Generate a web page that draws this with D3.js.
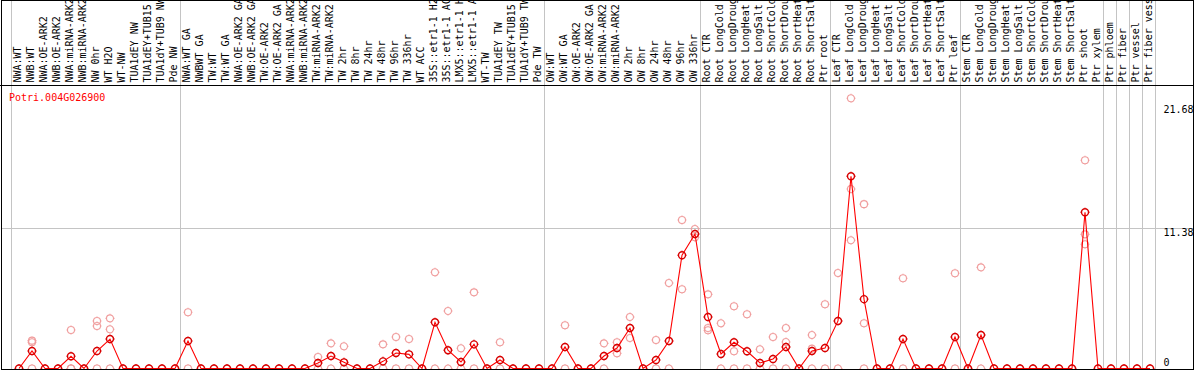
<!DOCTYPE html>
<html>
<head>
<meta charset="utf-8">
<script src="https://cdn.jsdelivr.net/npm/d3@7"></script>
<style>
  html, body { margin: 0; padding: 0; background: #fff; }
  svg { display: block; }
  text { font-family: "DejaVu Sans Mono", monospace; font-size: 10px; }
</style>
</head>
<body>
<script>
const geneId = "Potri.004G026900";

const samples = [
  "NWA:WT", "NWB:WT", "NWA:OE-ARK2", "NWB:OE-ARK2", "NWA:miRNA-ARK2", "NWB:miRNA-ARK2",
  "NW 0hr", "WT H2O", "WT-NW", "TUA1dEY NW", "TUA1dEY+TUB15 NW", "TUA1dY+TUB9 NW", "Pde NW",
  "NWA:WT GA", "NWBWT GA", "TW:WT", "TW:WT GA", "NWA:OE-ARK2 GA", "NWB:OE-ARK2 GA",
  "TW:OE-ARK2", "TW:OE-ARK2 GA", "NWA:miRNA-ARK2", "NWB:miRNA-ARK2", "TW:miRNA-ARK2",
  "TW:miRNA-ARK2", "TW 2hr", "TW 8hr", "TW 24hr", "TW 48hr", "TW 96hr", "TW 336hr",
  "WT ACC", "35S::etr1-1 H2O", "35S::etr1-1 ACC", "LMX5::etr1-1 H2O", "LMX5::etr1-1 ACC",
  "WT-TW", "TUA1dEY TW", "TUA1dEY+TUB15 TW", "TUA1dY+TUB9 TW", "Pde TW",
  "OW:WT", "OW:WT GA", "OW:OE-ARK2", "OW:OE-ARK2 GA", "OW:miRNA-ARK2", "OW:miRNA-ARK2",
  "OW 2hr", "OW 8hr", "OW 24hr", "OW 48hr", "OW 96hr", "OW 336hr",
  "Root CTR", "Root LongCold", "Root LongDrought", "Root LongHeat", "Root LongSalt",
  "Root ShortCold", "Root ShortDrought", "Root ShortHeat", "Root ShortSalt", "Ptr root",
  "Leaf CTR", "Leaf LongCold", "Leaf LongDrought", "Leaf LongHeat", "Leaf LongSalt",
  "Leaf ShortCold", "Leaf ShortDrought", "Leaf ShortHeat", "Leaf ShortSalt", "Ptr leaf",
  "Stem CTR", "Stem LongCold", "Stem LongDrought", "Stem LongHeat", "Stem LongSalt",
  "Stem ShortCold", "Stem ShortDrought", "Stem ShortHeat", "Stem ShortSalt", "Ptr shoot",
  "Ptr xylem", "Ptr phloem", "Ptr fiber", "Ptr vessel", "Ptr fiber vessel"
];

// samples per group (grey separators)
const groupSizes = [13, 28, 12, 10, 10, 11, 1, 1, 1, 1];

// mean expression (red line)
const means = [
  0, 1.42, 0, 0, 0.99, 0, 1.42, 2.39, 0, 0, 0, 0, 0,
  2.23, 0, 0, 0, 0, 0, 0, 0, 0, 0, 0.45, 1.01, 0.50, 0, 0, 0.58, 1.26, 1.15, 0,
  3.75, 1.48, 0.53, 1.96, 0, 0.69, 0, 0, 0,
  0, 1.75, 0, 0, 1.01, 1.66, 3.29, 0, 0.69, 2.23, 9.19, 10.92,
  4.18, 1.18, 2.13, 1.40, 0.45, 0.77, 1.75, 0, 1.42, 1.66,
  3.86, 15.6, 5.63, 0, 0, 2.39, 0, 0, 0, 2.56,
  0, 2.72, 0, 0, 0, 0, 0, 0, 0, 12.68, 0,
  0, 0, 0, 0
];

// individual replicates (pink circles)
const replicates = [
  [], [2.26, 2.13, 0], [], [], [3.12, 0, 0], [], [3.86, 3.45, 0], [4.07, 3.18, 0], [], [], [], [], [],
  [4.56, 0], [], [], [], [], [], [], [], [], [], [0.93, 0], [2.04, 0], [1.80, 0], [], [], [1.96, 0],
  [2.56, 0], [2.39, 0], [], [7.81, 0], [4.67, 0], [1.64, 0], [6.18, 0], [], [2.13, 0], [], [], [],
  [], [3.51, 0], [], [], [2.04, 0], [2.13, 1.23], [4.18, 2.48], [], [2.31, 0], [6.94, 0],
  [12.05, 6.43], [11.32, 10.65],
  [6.02, 3.29, 3.10], [3.67, 0], [5.05, 1.40, 0], [4.40, 0], [1.56, 0], [2.56, 0], [3.29, 2.15, 0],
  [], [2.72, 1.61, 0], [5.21, 0],
  [7.75, 0], [21.93, 14.57, 10.41], [13.34, 3.67, 0], [], [], [7.32, 0], [], [], [], [7.73, 0],
  [], [8.21, 0], [], [], [], [], [], [], [], [16.90, 10.89, 10.08], [],
  [], [], [], []
];

const yTicks = [0, 11.38, 21.68];

const W = 1194, H = 370;
const headerY = 85.5, baseY = 368.5;

const svg = d3.select("body").append("svg")
    .attr("width", W)
    .attr("height", H);

const x = d3.scaleBand()
    .domain(d3.range(samples.length))
    .range([11, 11 + 13 * samples.length])
    .paddingInner(0).paddingOuter(0);

const px = i => x(i) + 8;

const y = d3.scaleLinear()
    .domain([0, 21.68])
    .range([baseY, 101.4]);

// group separators
const bounds = [0].concat(Array.from(d3.cumsum(groupSizes)));
svg.append("g").selectAll("line")
    .data(bounds)
  .enter().append("line")
    .attr("x1", d => Math.round(x(0) + 13 * d) + 0.5)
    .attr("x2", d => Math.round(x(0) + 13 * d) + 0.5)
    .attr("y1", 0)
    .attr("y2", H)
    .style("stroke", "#c4c4c4")
    .style("stroke-width", 1);

// middle grid line
svg.append("line")
    .attr("x1", 1).attr("x2", W)
    .attr("y1", Math.round(y(yTicks[1])) + 0.5)
    .attr("y2", Math.round(y(yTicks[1])) + 0.5)
    .style("stroke", "#c4c4c4");

// sample labels (long ones run off the top, as in the original)
svg.append("g").selectAll("text")
    .data(samples)
  .enter().append("text")
    .attr("transform", (d, i) => `translate(${px(i) + 2},82.5) rotate(-90)`)
    .text(d => d);

// title
svg.append("text")
    .attr("x", 9).attr("y", 101)
    .style("fill", "#ff0000")
    .text(geneId);

// right axis values
const tickOffsets = [-2.5, 7.7, 11.6];
svg.append("g").selectAll("text")
    .data(yTicks)
  .enter().append("text")
    .attr("x", 1163.5)
    .attr("y", (d, i) => y(d) + tickOffsets[i])
    .text(d => d === 0 ? "0" : d.toFixed(2));

// circle with tiny tick marks, bitmap style
const ring = (cx, cy) => {
  const r = 3.5;
  return `M${cx - r},${cy}a${r},${r} 0 1,0 ${2 * r},0a${r},${r} 0 1,0 ${-2 * r},0` +
    `M${cx},${cy - r - 1}v1M${cx},${cy + r}v1M${cx - r - 1},${cy}h1M${cx + r},${cy}h1`;
};

// replicate points
const repPts = [];
replicates.forEach((vals, i) => vals.forEach(v => repPts.push([i, v])));
svg.append("g").selectAll("path")
    .data(repPts)
  .enter().append("path")
    .attr("d", d => ring(px(d[0]), y(d[1])))
    .style("fill", "none")
    .style("stroke", "#f09c9c")
    .style("stroke-width", 1.1);

// mean line
const line = d3.line()
    .x((d, i) => px(i))
    .y(d => y(d));

svg.append("path")
    .datum(means)
    .attr("d", line)
    .style("fill", "none")
    .style("stroke", "#ff0000")
    .style("stroke-width", 1.1);

svg.append("g").selectAll("path")
    .data(means)
  .enter().append("path")
    .attr("d", (d, i) => ring(px(i), y(d)))
    .style("fill", "none")
    .style("stroke", "#d80000")
    .style("stroke-width", 1.4);

// frame
svg.append("rect")
    .attr("x", 1.5).attr("y", 0.5)
    .attr("width", W - 2).attr("height", baseY + 1 - 0.5)
    .style("fill", "none")
    .style("stroke", "#000");

svg.append("line")
    .attr("x1", 0).attr("x2", W)
    .attr("y1", headerY).attr("y2", headerY)
    .style("stroke", "#000");
</script>
</body>
</html>
